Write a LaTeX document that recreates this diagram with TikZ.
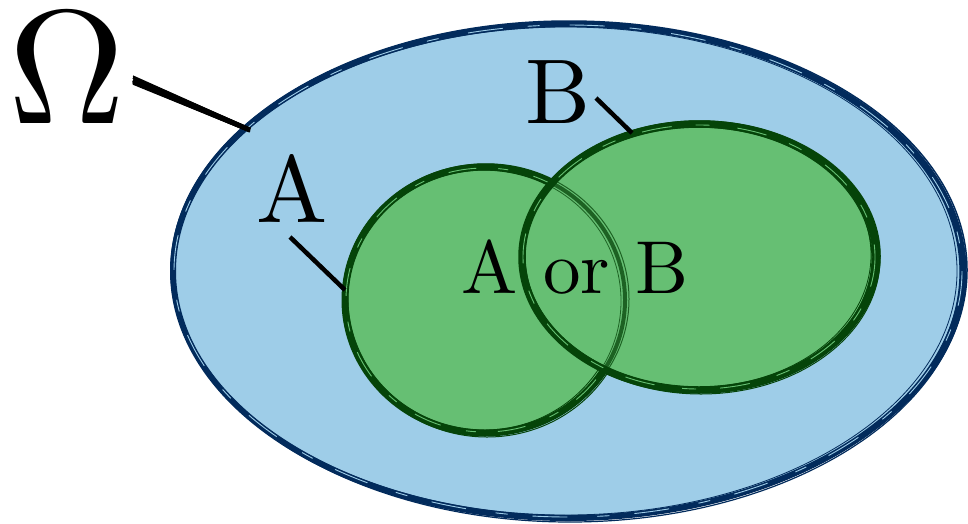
\documentclass[tikz,border=0pt]{standalone}
\usetikzlibrary{calc}
\definecolor{skyfill}{HTML}{9ECDE8}
\definecolor{navy}{HTML}{022B5C}
\definecolor{leaf}{HTML}{66BF73}
\definecolor{darkleaf}{HTML}{054409}
\begin{document}
\begin{tikzpicture}[x=1pt,y=-1pt,
  lbl/.style={inner sep=0pt, text=black},
  leader/.style={draw=black, line width=4.5pt}]
\useasboundingbox (0,0) rectangle (968,523);
% universe
\fill[skyfill] (568,271) ellipse [x radius=395, y radius=247];
\foreach \dx/\dy/\drx/\dry/\w in {0/0/0/0/6, 1/-1/3/2/1.5, -1/1/-2/-1/1.2, 2/1/1/3/1.2, -2/0/-4/-3/0.8}
  \draw[navy, line width=\w pt] (568+\dx,271+\dy) ellipse [x radius=395+\drx, y radius=247+\dry];
\draw[skyfill, line width=0.9pt, dash pattern=on 35pt off 25pt on 12pt off 30pt] (568,271) ellipse [x radius=394, y radius=246];
% set A
\fill[leaf] (485,300) ellipse [x radius=140, y radius=133];
\foreach \dx/\dy/\drx/\dry/\w in {0/0/0/0/7, 1/-1/3/2/1.5, -1/1/-3/-2/1.2, 2/1/2/3/1, -1/-2/-4/-1/0.8}
  \draw[darkleaf, line width=\w pt] (485+\dx,300+\dy) ellipse [x radius=140+\drx, y radius=133+\dry];
\draw[leaf, line width=0.9pt, dash pattern=on 28pt off 22pt on 10pt off 26pt] (485,300) ellipse [x radius=139, y radius=132];
% set B
\fill[leaf] (699,257) ellipse [x radius=177, y radius=133];
\begin{scope}
  \clip (699,257) ellipse [x radius=177, y radius=133];
  \foreach \dx/\dy/\drx/\dry/\w in {0/0/0/0/4, 1/-1/3/2/1, -1/1/-3/-2/0.8}
    \draw[darkleaf, line width=\w pt, opacity=0.75] (485+\dx,300+\dy) ellipse [x radius=140+\drx, y radius=133+\dry];
\end{scope}
\foreach \dx/\dy/\drx/\dry/\w in {0/0/0/0/7.5, 1/-1/3/2/1.5, -1/1/-3/-2/1.2, 2/1/2/3/1, -1/-2/-4/-1/0.8}
  \draw[darkleaf, line width=\w pt] (699+\dx,257+\dy) ellipse [x radius=177+\drx, y radius=133+\dry];
\draw[leaf, line width=0.9pt, dash pattern=on 30pt off 24pt on 14pt off 28pt] (699,257) ellipse [x radius=176, y radius=132];
% labels
\node[lbl, scale=16.2] (omega) at (67,68) {$\Omega$};
\node[lbl, scale=9.5] (alabel) at (292,188) {A};
\node[lbl, scale=9.2] (blabel) at (558,92) {B};
\node[lbl, scale=7.5] (union) at (575,267) {A or B};
% leader ends
\coordinate (om1) at (133,80);
\coordinate (om2) at (250,130);
\coordinate (a1) at (290,237);
\coordinate (a2) at (345,290);
\coordinate (b1) at (596,98);
\coordinate (b2) at (632,133);
\foreach \dy/\w in {0/5, -2.5/2.5, 2.5/3, 4/1.5, -4/1.2}
  \draw[black, line width=\w pt] ($(om1)+(0,\dy)$) -- ($(om2)+(0,\dy*0.4)$);
\draw[leader] (a1) -- (a2);
\draw[leader] (b1) -- (b2);
\end{tikzpicture}
\end{document}
